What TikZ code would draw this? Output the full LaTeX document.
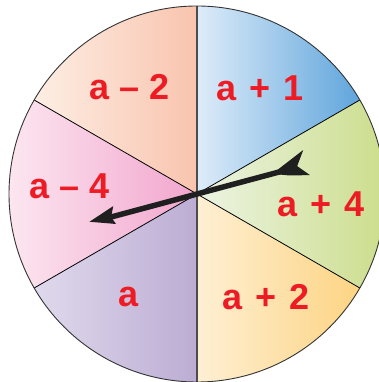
\documentclass[tikz,border=0pt]{standalone}
\usepackage{fontspec}
\setmainfont{Liberation Sans}
\definecolor{labred}{RGB}{237,28,36}
\definecolor{pchL}{RGB}{253,238,228}\definecolor{pchR}{RGB}{249,196,174}
\definecolor{bluL}{RGB}{222,236,249}\definecolor{bluR}{RGB}{95,165,220}
\definecolor{grnL}{RGB}{236,244,228}\definecolor{grnR}{RGB}{204,222,140}
\definecolor{ylwL}{RGB}{254,239,212}\definecolor{ylwR}{RGB}{253,212,130}
\definecolor{purL}{RGB}{224,218,237}\definecolor{purR}{RGB}{188,172,211}
\definecolor{pnkL}{RGB}{252,230,240}\definecolor{pnkR}{RGB}{242,165,205}
\newcommand\mysector[6]{%
  \begin{scope}
    \clip (C) -- ++(#1:188) arc[start angle=#1,end angle=#2,radius=188] -- cycle;
    \shade[left color=#5,right color=#6] (#3,0) rectangle (#4,382);
  \end{scope}}
\newcommand\pl{\hspace{13pt}+\hspace{13pt}}
\newcommand\mi{\hspace{10pt}–\hspace{10pt}}
\begin{document}
\begin{tikzpicture}[x=1pt,y=1pt,
  lab/.style={text=labred,font=\fontsize{36}{36}\selectfont\bfseries,inner sep=0pt},
  divider/.style={line width=0.8pt,black},
  arrowpart/.style={fill=black!88}]
\useasboundingbox (0,0) rectangle (378,382);
\coordinate (C) at (197,188);
\mysector{30}{90}{197}{360}{bluL}{bluR}
\mysector{90}{150}{34}{197}{pchL}{pchR}
\mysector{150}{210}{9}{197}{pnkL}{pnkR}
\mysector{210}{270}{34}{197}{purL}{purR}
\mysector{270}{330}{197}{360}{ylwL}{ylwR}
\mysector{-30}{30}{197}{385}{grnL}{grnR}
% dividers
\draw[divider] (C) -- ++(30:188);
\draw[divider] (C) -- ++(150:188);
\draw[divider] (C) -- ++(210:188);
\draw[divider] (C) -- ++(330:188);
\draw[line width=1.6pt,black!70] (C) ++(0,188) -- ++(0,-376);
\draw[line width=0.9pt,black!80] (C) circle[radius=188];
% labels
\node[lab] (am2) at (130,295) {a\mi 2};
\node[lab] (ap1) at (260,294) {a\pl 1};
\node[lab] (am4) at (70,196) {a\mi 4};
\node[lab] (ap4) at (321,178) {a\pl 4};
\node[lab] (a0) at (129,85) {a};
\node[lab] (ap2) at (266,85) {a\pl 2};
% spinner arrow
\begin{scope}[shift={(C)},rotate=195]
  \draw[line width=5.5pt,black!88] (-100,0) -- (92,0);
  \fill[arrowpart] (111,-1) -- (84,-10) -- (89,0) -- (86,8) -- cycle;
  \fill[arrowpart] (-78,0) -- (-114,-15) -- (-104,-1) -- (-114,11) -- (-94,6) -- cycle;
\end{scope}
\end{tikzpicture}
\end{document}
